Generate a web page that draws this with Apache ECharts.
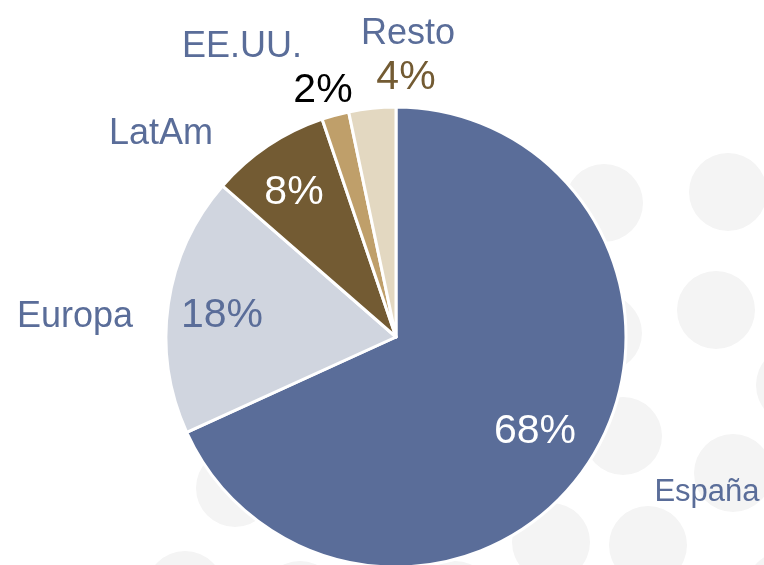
<!DOCTYPE html>
<html>
<head>
<meta charset="utf-8">
<script src="https://cdn.jsdelivr.net/npm/echarts@6/dist/echarts.min.js"></script>
<style>
  html, body { margin: 0; padding: 0; background: #ffffff; }
  #chart { width: 764px; height: 565px; }
</style>
</head>
<body>
<div id="chart"></div>
<script>
// Datos: reparto por zona (orden horario desde las 12)
const regiones = ['España', 'Europa', 'LatAm', 'EE.UU.', 'Resto'];
const cuota = [68.2, 18.2, 8.4, 1.9, 3.3];          // ángulo
const etiquetaCuota = ['68%', '18%', '8%', '2%', '4%']; // texto impreso

// Estilo
const colores = ['#5a6d99', '#d0d5df', '#735b33', '#bf9f6a', '#e3d8c1'];
const colorPct = ['#ffffff', '#5a6d99', '#ffffff', '#000000', '#735b33'];
const azul = '#5a6d99';
const cx = 396, cy = 337, R = 230;

// desplazamiento de cada etiqueta respecto al centro de la tarta
const posPct = [[139, 95], [-174, -21], [-102, -144], [-73, -246], [10, -259]];
const posNombre = [[311, 155], [-321, -20], [-235, -203], [-154, -290], [12, -303]];
const tamNombre = [31, 36, 36, 36, 36];

// Circulos decorativos del fondo
const puntos = [[604, 203], [728, 192], [603, 333], [716, 310], [623, 436], [733, 473],
  [551, 542], [648, 545], [235, 488], [185, 590], [300, 600], [455, 600], [795, 385], [785, 590]];

const chart = echarts.init(document.getElementById('chart'), null, { renderer: 'canvas' });

const datosPct = regiones.map((n, i) => ({
    name: n,
    value: cuota[i],
    itemStyle: { color: colores[i] },
    label: { color: colorPct[i] }
}));

const datosNombre = regiones.map((n, i) => ({
    name: n,
    value: cuota[i],
    label: { fontSize: tamNombre[i] }
}));

const option = {
    animation: false,
    graphic: puntos.map(p => ({
        type: 'circle',
        z: -10,
        silent: true,
        shape: { cx: p[0], cy: p[1], r: 39 },
        style: { fill: '#f4f4f4' }
    })),
    series: [
        {
            type: 'pie',
            center: [cx, cy],
            radius: [0, R],
            startAngle: 90,
            clockwise: true,
            silent: true,
            itemStyle: { borderColor: '#ffffff', borderWidth: 3 },
            label: {
                show: true,
                position: 'inside',
                fontFamily: 'Liberation Sans, Arial, sans-serif',
                fontSize: 41,
                formatter: p => etiquetaCuota[p.dataIndex]
            },
            labelLine: { show: false },
            labelLayout: p => ({
                x: cx + posPct[p.dataIndex][0],
                y: cy + posPct[p.dataIndex][1],
                align: 'center',
                verticalAlign: 'middle'
            }),
            data: datosPct
        },
        {
            type: 'pie',
            center: [cx, cy],
            radius: [0, R],
            startAngle: 90,
            clockwise: true,
            silent: true,
            itemStyle: { color: 'transparent', borderWidth: 0 },
            label: {
                show: true,
                position: 'inside',
                color: azul,
                fontFamily: 'Liberation Sans, Arial, sans-serif',
                formatter: '{b}'
            },
            labelLine: { show: false },
            labelLayout: p => ({
                x: cx + posNombre[p.dataIndex][0],
                y: cy + posNombre[p.dataIndex][1],
                align: 'center',
                verticalAlign: 'middle'
            }),
            data: datosNombre
        }
    ]
};

chart.setOption(option);
</script>
</body>
</html>
